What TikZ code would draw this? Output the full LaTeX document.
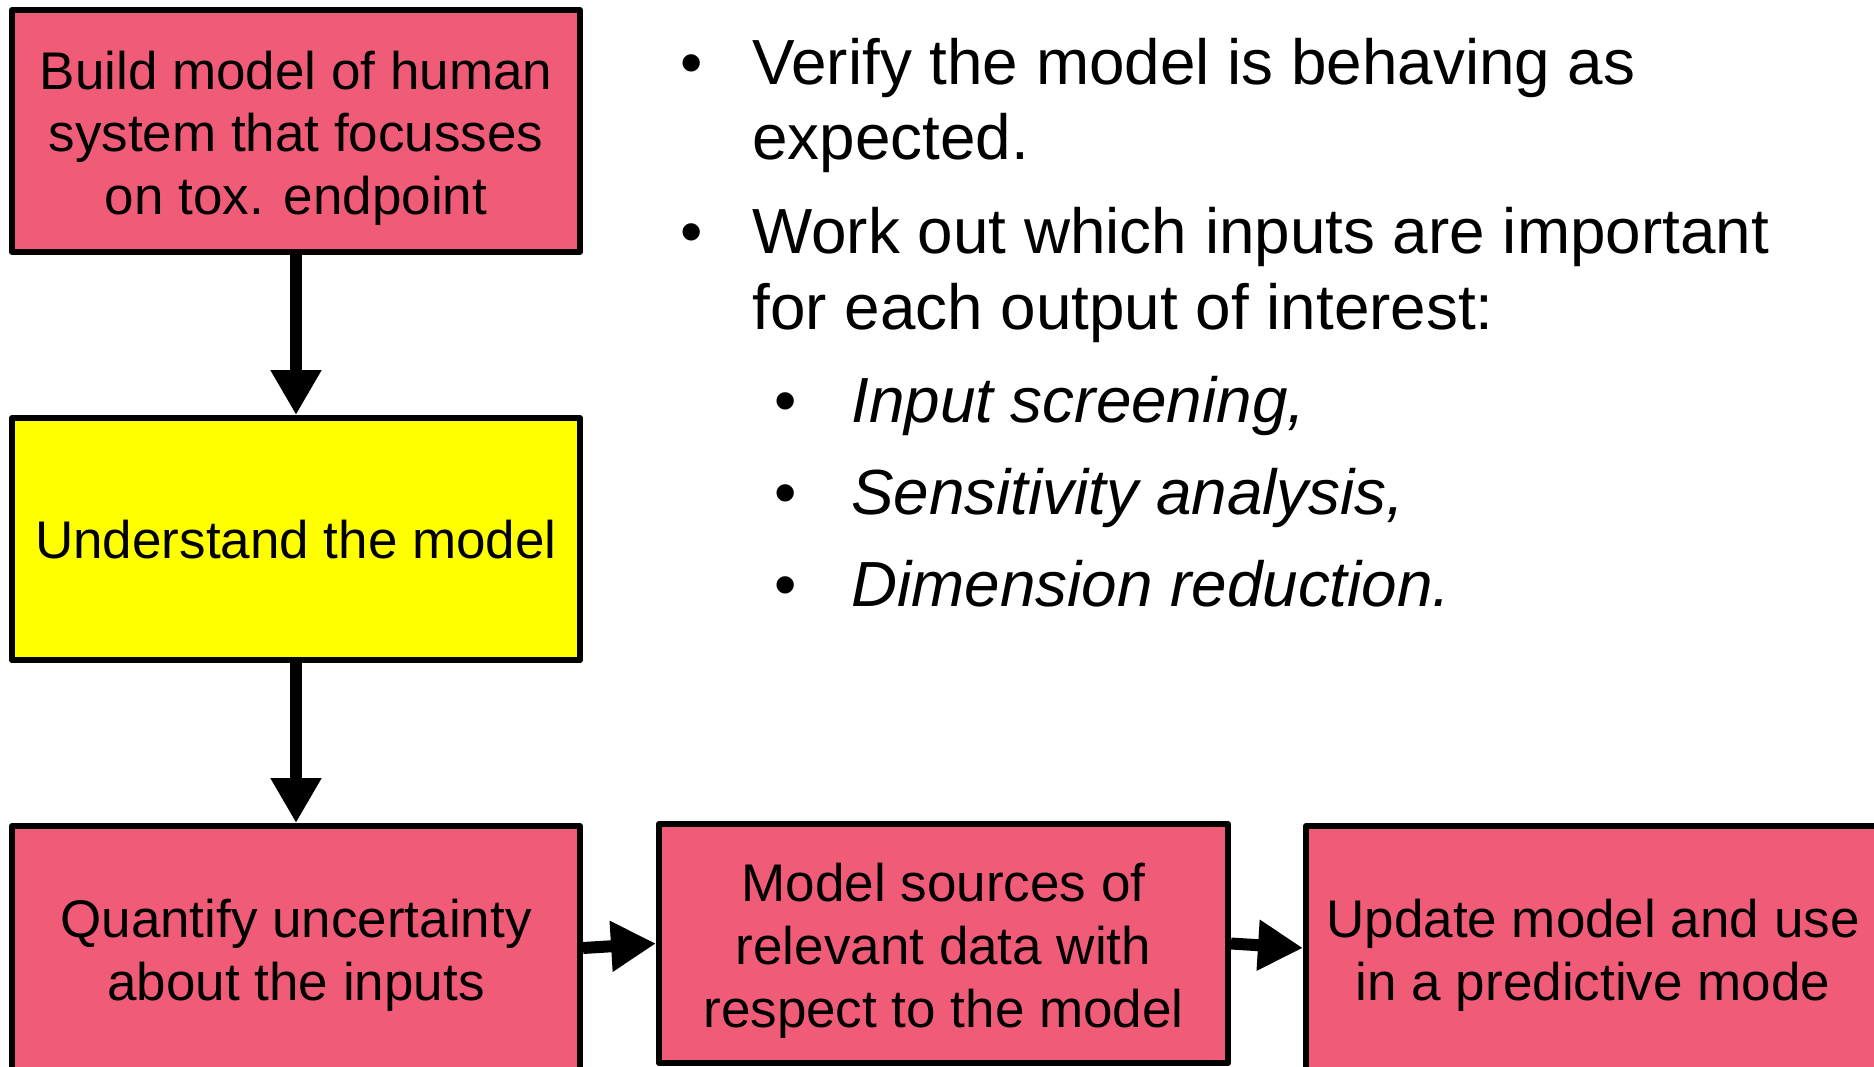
\documentclass[tikz,border=0pt]{standalone}
\usepackage{fontspec}
\setmainfont{Liberation Sans}
\usetikzlibrary{arrows.meta}
\definecolor{boxpink}{RGB}{240,92,120}
\definecolor{boxyellow}{RGB}{255,255,0}
\begin{document}
\begin{tikzpicture}[x=0.5pt,y=-0.5pt,
  stepbox/.style={draw=black, line width=3pt, line join=round, fill=boxpink,
    minimum width=284pt, minimum height=121pt, inner sep=0pt},
  boxtext/.style={align=center, inner sep=0pt, font=\fontsize{26.5}{31.4}\selectfont},
  flow/.style={line width=6pt, -{Triangle[width=24pt,length=22.5pt]}},
  bullettext/.style={anchor=base west, inner sep=0pt, font=\fontsize{31.9}{36.5}\selectfont},
  subtext/.style={bullettext, font=\fontsize{31.9}{36.5}\selectfont\itshape},
  dot/.style={anchor=base west, inner sep=0pt, font=\fontsize{31.9}{36.5}\selectfont}]
\clip (0,0) rectangle (1874,1066);
\fill[white] (0,0) rectangle (1874,1066);

% flow boxes
\node[stepbox] (build) at (296,131) {};
\node[stepbox, fill=boxyellow] (understand) at (296,539) {};
\node[stepbox, minimum height=122pt] (quantify) at (296,948) {};
\node[stepbox, minimum width=284.5pt, minimum height=119.5pt] (sources) at (943.5,943.5) {};
\node[stepbox, minimum width=287pt, minimum height=122pt] (update) at (1593,948) {};

% box captions
\node[boxtext] (buildtext) at ([yshift=-3.6pt]build.center)
  {Build model of human\\system that focusses\\on tox. endpoint};
\node[boxtext] (understandtext) at ([yshift=-0.5pt]understand.center) {Understand the model};
\node[boxtext] (quantifytext) at ([yshift=-3.6pt]quantify.center) {Quantify uncertainty\\about the inputs};
\node[boxtext] (sourcestext) at ([yshift=-3.6pt]sources.center)
  {Model sources of\\relevant data with\\respect to the model};
\node[boxtext] (updatetext) at ([yshift=-3.6pt]update.center) {Update model and use\\in a predictive mode};

% connectors
\draw[flow] (build.south) -- (understand.north);
\draw[flow] (understand.south) -- (quantify.north);
\draw[flow] (quantify.east) -- (sources.west);
\draw[flow] (sources.east) -- (update.west);

% notes on understanding the model
\node[dot] (d1) at (680,84) {\textbullet};
\node[bullettext] (v1) at (752,84) {Verify the model is behaving as};
\node[bullettext] (v2) at (752,159) {expected.};
\node[dot] (d2) at (680,253) {\textbullet};
\node[bullettext] (w1) at (752,253) {Work out which inputs are important};
\node[bullettext] (w2) at (752,329) {for each output of interest:};
\node[dot] (d3) at (774,422) {\textbullet};
\node[subtext] (s1) at (851,422) {Input screening,};
\node[dot] (d4) at (774,514) {\textbullet};
\node[subtext] (s2) at (851,514) {Sensitivity analysis,};
\node[dot] (d5) at (774,606) {\textbullet};
\node[subtext] (s3) at (851,606) {Dimension reduction.};
\end{tikzpicture}
\end{document}
